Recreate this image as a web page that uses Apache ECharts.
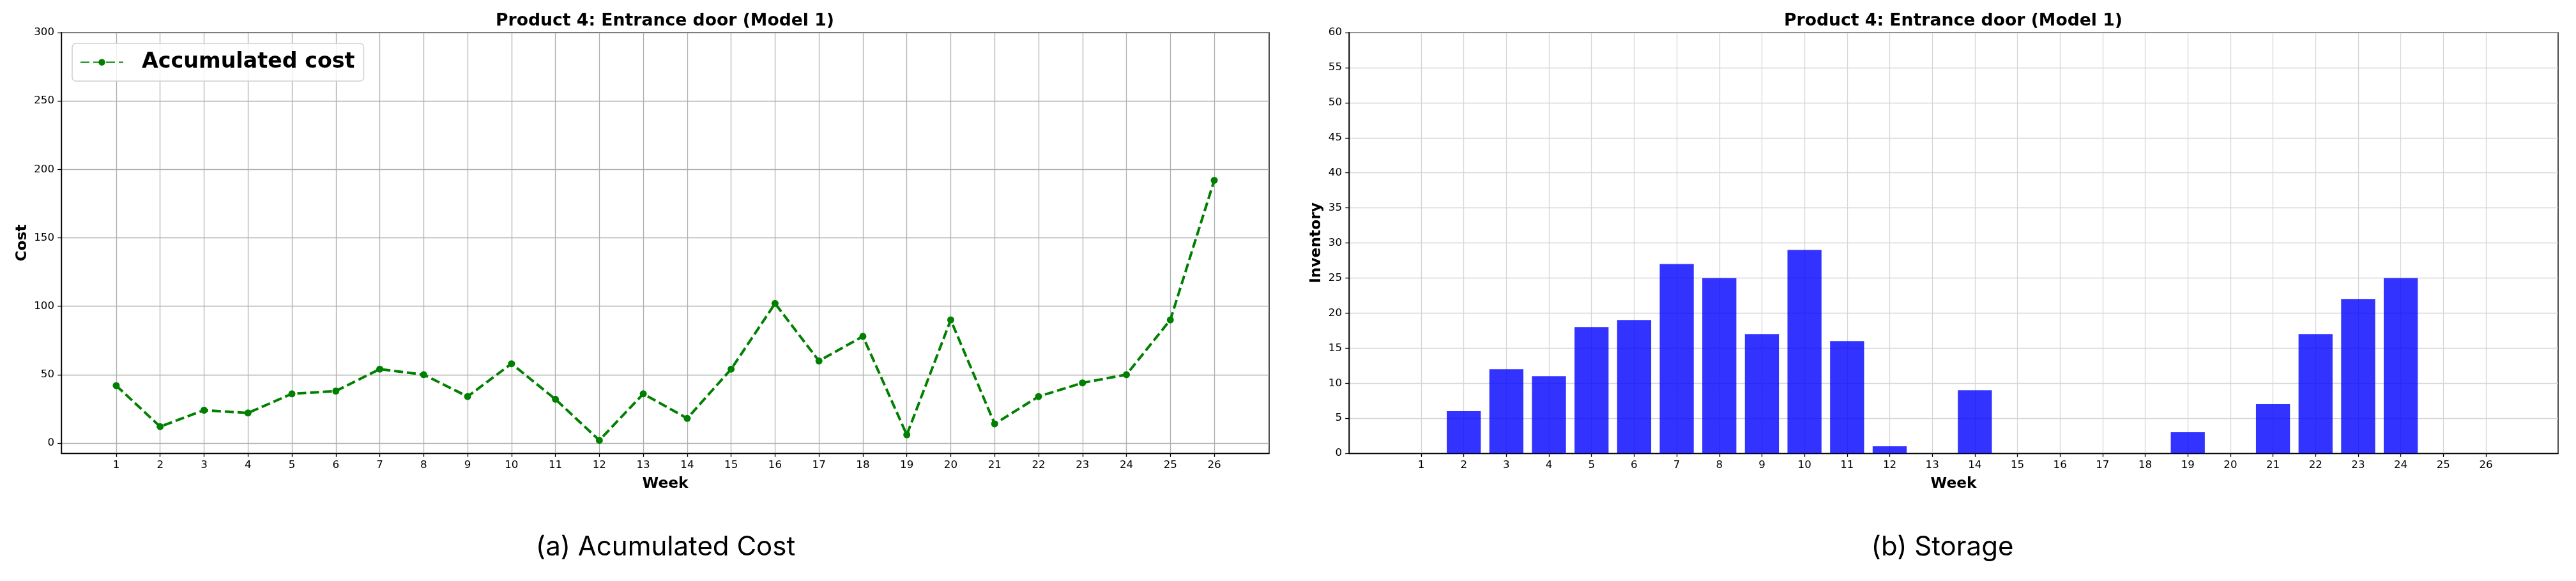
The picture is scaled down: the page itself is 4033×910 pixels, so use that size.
<!DOCTYPE html>
<html><head><meta charset="utf-8">
<script src="https://cdn.jsdelivr.net/npm/echarts@6/dist/echarts.min.js"></script>
<style>html,body{margin:0;padding:0;background:#fff}#c{width:4033px;height:910px}</style>
</head><body><div id="c"></div>
<script>
const weeks = [1,2,3,4,5,6,7,8,9,10,11,12,13,14,15,16,17,18,19,20,21,22,23,24,25,26];
const costValues = [42,12,24,22,36,38,54,50,34,58,32,2,36,18,54,102,60,78,6,90,14,34,44,50,90,192];
const inventoryValues = [0,6,12,11,18,19,27,25,17,29,16,1,0,9,0,0,0,0,3,0,7,17,22,25,0,0];
const costTicks = [0,50,100,150,200,250,300];
const inventoryTicks = [0,5,10,15,20,25,30,35,40,45,50,55,60];
const chartTitle = 'Product 4: Entrance door (Model 1)';
const captions = ['(a) Acumulated Cost', '(b) Storage'];
const seriesName = 'Accumulated cost';

const FONT = 'DejaVu Sans';
const chart = echarts.init(document.getElementById('c'), null, {renderer: 'canvas'});

function xAxisCfg(gi, min, max, gridColor) {
  return {
    type: 'value', gridIndex: gi, min: min, max: max,
    name: 'Week', nameLocation: 'middle', nameGap: 36,
    nameTextStyle: {fontFamily: FONT, fontSize: 23.3, fontWeight: 'bold', color: '#000'},
    axisLine: {show: true, onZero: false, lineStyle: {color: '#000', width: 1.4}},
    axisTick: {show: true, customValues: weeks, length: 5.8, lineStyle: {color: '#000', width: 1.3}},
    axisLabel: {customValues: weeks, fontFamily: FONT, fontSize: 16.67, color: '#000', margin: 10},
    splitLine: {show: true, lineStyle: {color: gridColor, width: 1.3}}
  };
}
function yAxisCfg(gi, min, max, ticks, name, gap, gridColor) {
  return {
    type: 'value', gridIndex: gi, min: min, max: max,
    name: name, nameLocation: 'middle', nameGap: gap, nameRotate: 90,
    nameTextStyle: {fontFamily: FONT, fontSize: 23.3, fontWeight: 'bold', color: '#000'},
    axisLine: {show: true, onZero: false, lineStyle: {color: '#000', width: 1.4}},
    axisTick: {show: true, customValues: ticks, length: 5.8, lineStyle: {color: '#000', width: 1.3}},
    axisLabel: {customValues: ticks, fontFamily: FONT, fontSize: 16.67, color: '#000', margin: 11},
    splitLine: {show: true, lineStyle: {color: gridColor, width: 1.3}}
  };
}

const option = {
  animation: false,
  backgroundColor: '#fff',
  grid: [
    {left: 96, top: 51, width: 1891, height: 659, show: true, borderColor: '#000', borderWidth: 1.4, backgroundColor: 'transparent'},
    {left: 2112, top: 51, width: 1893, height: 659, show: true, borderColor: '#000', borderWidth: 1.4, backgroundColor: 'transparent'}
  ],
  legend: {
    data: [seriesName],
    left: 113, top: 68,
    padding: [13, 14, 13, 12],
    itemWidth: 67, itemHeight: 13,
    borderColor: '#d0d0d0', borderWidth: 1.5, borderRadius: 6,
    backgroundColor: 'rgba(255,255,255,0.8)',
    textStyle: {fontFamily: FONT, fontSize: 33.3, fontWeight: 'bold', color: '#000', padding: [0, 0, 0, 24]}
  },
  xAxis: [xAxisCfg(0, -0.25, 27.25, '#b0b0b0'), xAxisCfg(1, -0.695, 27.695, '#d6d6d6')],
  yAxis: [
    yAxisCfg(0, -7.5, 300, costTicks, 'Cost', 50, '#b0b0b0'),
    yAxisCfg(1, 0, 60, inventoryTicks, 'Inventory', 40, '#d6d6d6')
  ],
  series: [
    {
      name: seriesName, type: 'line', xAxisIndex: 0, yAxisIndex: 0,
      data: weeks.map((w, i) => [w, costValues[i]]),
      symbol: 'circle', symbolSize: 11, showSymbol: true,
      lineStyle: {color: '#008000', width: 4, type: [14, 6]},
      itemStyle: {color: '#008000'},
      z: 5
    },
    {
      name: 'Inventory', type: 'bar', xAxisIndex: 1, yAxisIndex: 1,
      data: weeks.map((w, i) => [w, inventoryValues[i]]),
      barWidth: 53.3,
      itemStyle: {color: 'rgba(0,0,255,0.8)'}
    }
  ],
  graphic: [
    {type: 'text', x: 1041, y: 33, style: {text: chartTitle, font: 'bold 26.67px "DejaVu Sans"', fill: '#000', textAlign: 'center', textVerticalAlign: 'middle'}},
    {type: 'text', x: 3058, y: 33, style: {text: chartTitle, font: 'bold 26.67px "DejaVu Sans"', fill: '#000', textAlign: 'center', textVerticalAlign: 'middle'}},
    {type: 'text', x: 1042, y: 857, style: {text: captions[0], font: '42px Inter', fill: '#000', textAlign: 'center', textVerticalAlign: 'middle'}},
    {type: 'text', x: 3041, y: 857, style: {text: captions[1], font: '42px Inter', fill: '#000', textAlign: 'center', textVerticalAlign: 'middle'}}
  ]
};
chart.setOption(option);
</script></body></html>
